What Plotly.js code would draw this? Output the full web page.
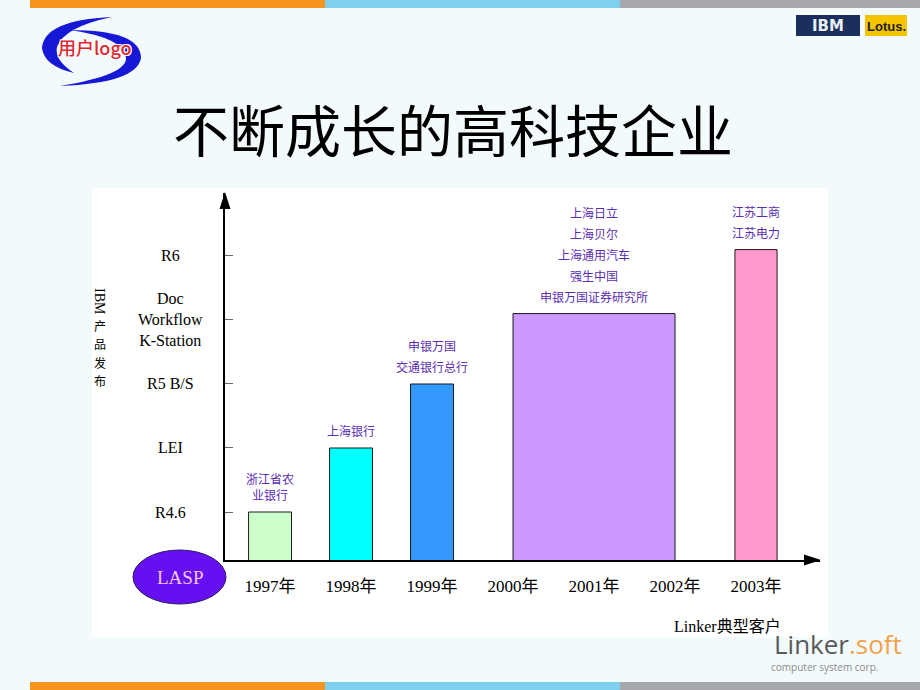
<!DOCTYPE html>
<html><head><meta charset="utf-8">
<script src="https://cdn.plot.ly/plotly-3.0.1.min.js"></script>
<style>html,body{margin:0;padding:0;background:#f3fafc}</style>
</head><body><div id="chart" style="width:920px;height:690px"></div>
<script>
// ---- data ----
const years = [1997, 1998, 1999, 2000, 2001, 2002, 2003];
const yearLabels = ['1997年', '1998年', '1999年', '2000年', '2001年', '2002年', '2003年'];
const barYears = [1997, 1998, 1999, 2001, 2003];
const barLevels = [1, 2, 3, 4.1, 5.1];
const barClients = [
  ['浙江省农<br>业银行'],
  ['上海银行'],
  ['申银万国', '交通银行总行'],
  ['上海日立', '上海贝尔', '上海通用汽车', '强生中国', '申银万国证券研究所'],
  ['江苏工商', '江苏电力']
];
const productLevels = [1, 2, 3, 4, 5];
const productLabels = ['R4.6', 'LEI', 'R5 B/S', 'Doc<br>Workflow<br>K-Station', 'R6'];
const yTitleLatin = 'IBM';
const yTitleCJK = ['产', '品', '发', '布'];

// ---- layout helpers ----
const W = 920, H = 690, L = 225, R = 100, T = 193, B = 130;
const PW = W - L - R, PH = H - T - B;
const px = x => (x - L) / PW;
const py = y => (H - B - y) / PH;
const pth = s => s.replace(/(-?[\d.]+),(-?[\d.]+)/g, (m, a, b) => px(+a).toFixed(4) + ',' + py(+b).toFixed(4));
const xRange = [1996.444, 2003.79];
const yRange = [0.25, 5.984];

const serif = 'Liberation Serif, Noto Sans CJK SC, serif';
const cjk = 'Noto Sans CJK SC, sans-serif';

const barColors = ['#ccffcc', '#00ffff', '#3399ff', '#cc99ff', '#ff99cc'];
const barWidths = [0.53, 0.53, 0.53, 2.0, 0.52];

const trace = {
  type: 'bar',
  x: barYears,
  y: barLevels,
  width: barWidths,
  marker: {
    color: barColors,
    line: {color: '#1a1a1a', width: 1}
  },
  hoverinfo: 'skip',
  showlegend: false
};

const shapes = [];
const rectP = (x0, y0, x1, y1, color, extra) => Object.assign({type: 'rect', xref: 'paper', yref: 'paper',
  x0: px(x0), y0: py(y0), x1: px(x1), y1: py(y1), fillcolor: color, line: {width: 0}, layer: 'below'}, extra || {});

// white panel
shapes.push(rectP(92, 188, 828, 637, '#ffffff'));
// bands
[[0, 8], [682, 690]].forEach(([a, b]) => {
  shapes.push(rectP(30, a, 325, b, '#f7941d'));
  shapes.push(rectP(325, a, 620, b, '#7fd0ef'));
  shapes.push(rectP(620, a, 920, b, '#a6a8ab'));
});
// user logo crescents
shapes.push({type: 'path', xref: 'paper', yref: 'paper', layer: 'above', line: {width: 0}, fillcolor: '#1717d6',
  path: pth('M112,17 Q44,20 42,48 Q44,66 74,73 Q54,60 57,47 Q64,27 112,17 Z')});
shapes.push({type: 'path', xref: 'paper', yref: 'paper', layer: 'above', line: {width: 0}, fillcolor: '#1717d6',
  path: pth('M70,30 Q141,30 141,58 Q137,83 60,86 Q127,75 126,58 Q125,38 70,30 Z')});
// IBM / Lotus boxes
shapes.push(rectP(796, 15, 860, 36, '#1c2f5c', {layer: 'above'}));
shapes.push(rectP(865, 15, 907, 36, '#f5c400', {layer: 'above'}));
// LASP ellipse
shapes.push({type: 'circle', xref: 'paper', yref: 'paper', x0: px(133), y0: py(550), x1: px(226), y1: py(604),
  fillcolor: '#6610f2', line: {color: '#2a1a60', width: 1}, layer: 'above'});
// axis arrowheads
shapes.push({type: 'path', xref: 'paper', yref: 'paper', xsizemode: 'pixel', ysizemode: 'pixel',
  xanchor: 1, yanchor: 0, path: 'M1,0 L-16,5.5 L-16,-5.5 Z', fillcolor: '#000', line: {width: 0}});
shapes.push({type: 'path', xref: 'paper', yref: 'paper', xsizemode: 'pixel', ysizemode: 'pixel',
  xanchor: 0, yanchor: 1, path: 'M0,1 L-5.5,-16 L5.5,-16 Z', fillcolor: '#000', line: {width: 0}});

const ann = [];
const textP = (x, y, text, font, extra) => ann.push(Object.assign({xref: 'paper', yref: 'paper', x: px(x), y: py(y),
  text: text, showarrow: false, font: font, xanchor: 'center', yanchor: 'middle'}, extra || {}));

// title
textP(453, 128, '不断成长的高科技企业', {family: cjk, size: 56, color: '#000'});
// user logo text
textP(95, 47, '用户logo', {family: cjk, size: 18, color: '#e2262f', weight: 500,
  shadow: '1px 1px 0 #fff, -1px -1px 0 #fff, 1px -1px 0 #fff, -1px 1px 0 #fff'});
// IBM / Lotus
textP(828, 26, 'IBM', {family: 'DejaVu Sans', size: 15, color: '#e8eef8', weight: 700});
textP(886, 26, 'Lotus.', {family: 'Liberation Sans Narrow, Liberation Sans', size: 13, color: '#222', weight: 700});
// y product labels
productLevels.forEach((lv, i) => {
  ann.push({xref: 'paper', yref: 'y', x: px(170), y: lv, text: productLabels[i], showarrow: false,
    font: {family: serif, size: 16, color: '#000'}, xanchor: 'center', yanchor: 'middle', align: 'center'});
});
// y-axis title (vertical: Latin rotated, CJK upright)
textP(100, 301, yTitleLatin, {family: serif, size: 14, color: '#000'}, {textangle: 90});
yTitleCJK.forEach((ch, i) => {
  textP(100, 325 + i * 18.5, ch, {family: cjk, size: 12, color: '#000'});
});
// bar client labels
barClients.forEach((names, i) => {
  const n = names.length;
  names.forEach((nm, j) => {
    ann.push({xref: 'x', yref: 'y', x: barYears[i], y: barLevels[i], text: nm, showarrow: false,
      font: {family: cjk, size: 12, color: '#5a2db0'}, xanchor: 'center', yanchor: 'bottom', align: 'center',
      yshift: 7 + (n - 1 - j) * 21});
  });
});
// LASP
textP(179.5, 577, 'LASP', {family: serif, size: 19, color: '#f6c6f0'});
// x axis caption
textP(727, 626, 'Linker典型客户', {family: serif, size: 16, color: '#000'});
// linker.soft logo
textP(838, 644, '<span style="color:#58595b">Linker</span><span style="color:#f3a24a">.soft</span>',
  {family: 'Open Sans', size: 26, color: '#58595b'});
textP(824, 667, 'computer system corp.', {family: 'Open Sans', size: 10, color: '#8a8a8a'});

const layout = {
  width: W, height: H,
  margin: {l: L, r: R, t: T, b: B, pad: 0},
  paper_bgcolor: '#f3fafc',
  plot_bgcolor: 'rgba(0,0,0,0)',
  showlegend: false,
  hovermode: false,
  bargap: 0,
  xaxis: {
    range: xRange, showgrid: false, zeroline: false,
    showline: true, linecolor: '#000', linewidth: 2,
    tickmode: 'array', tickvals: years, ticktext: yearLabels, ticks: '',
    ticklabelstandoff: 10,
    tickfont: {family: serif, size: 17, color: '#000'}
  },
  yaxis: {
    range: yRange, showgrid: false, zeroline: false,
    showline: true, linecolor: '#000', linewidth: 2,
    tickmode: 'array', tickvals: productLevels, ticks: 'inside', ticklen: 8, tickwidth: 1, tickcolor: '#666',
    showticklabels: false
  },
  shapes: shapes,
  annotations: ann
};

Plotly.newPlot('chart', [trace], layout, {displayModeBar: false, staticPlot: true});
</script>
</body></html>
